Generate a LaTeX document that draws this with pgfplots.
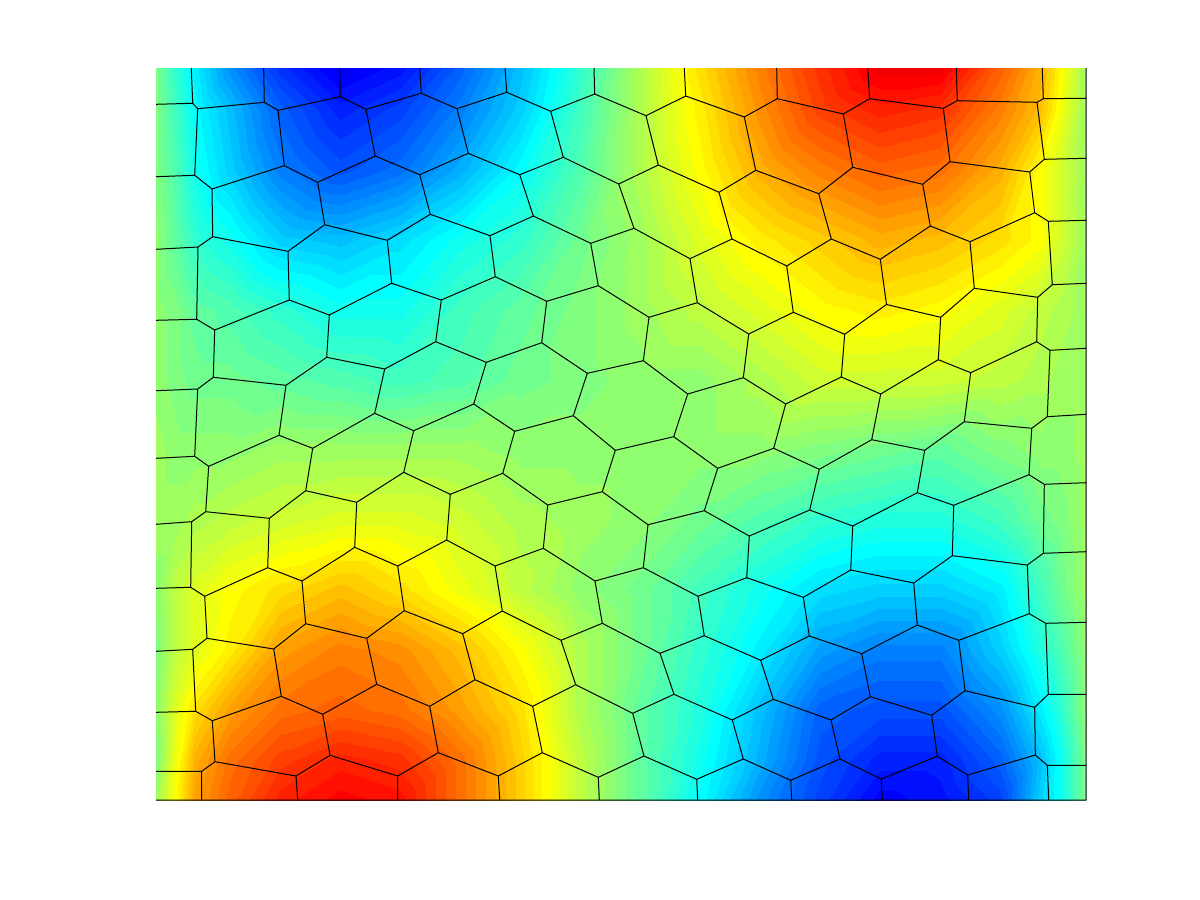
\documentclass[border=0pt]{standalone}
\usepackage{pgfplots}
\pgfplotsset{compat=1.18}
\pgfplotsset{
 colormap={mljetbase}{rgb(0)=(0,0,0.5625) rgb(7)=(0,0,1) rgb(23)=(0,1,1) rgb(39)=(1,1,0) rgb(55)=(1,0,0) rgb(63)=(0.5,0,0)},
 colormap={mljet}{samples of colormap=(64 of mljetbase)},
}
\begin{document}
\begin{tikzpicture}
\path[use as bounding box,fill=white] (-78pt,-50pt) rectangle (522pt,400pt);
\begin{axis}[at={(0,0)},anchor=south west,scale only axis,width=465pt,height=366pt,
 xmin=156,xmax=1086,ymin=68,ymax=800,y dir=reverse,hide axis,clip=false,
 colormap name=mljet,colormap access=piecewise constant,point meta min=0.5,point meta max=64.5]
\addplot[surf,shader=interp,mesh/cols=20,point meta=explicit] coordinates {
(156,68)[32](175,68)[27](195,68)[23](230,68)[17](280,68)[11](340,68)[7](400,68)[9](460,68)[14](520,68)[20](580,68)[27](640,68)[35](700,68)[42](760,68)[48](820,68)[53](880,68)[57](940,68)[57](1000,68)[50](1040,68)[45](1062,68)[40](1086,68)[34]
(156,110)[32](175,110)[28](195,110)[24](230,110)[20](280,110)[14](340,110)[10](400,110)[12](460,110)[16](520,110)[21](580,110)[28](640,110)[35](700,110)[41](760,110)[47](820,110)[52](880,110)[54](940,110)[53](1000,110)[48](1040,110)[44](1062,110)[39](1086,110)[34]
(156,170)[32](175,170)[29](195,170)[25](230,170)[21](280,170)[16](340,170)[13](400,170)[15](460,170)[19](520,170)[24](580,170)[29](640,170)[35](700,170)[40](760,170)[45](820,170)[48](880,170)[50](940,170)[49](1000,170)[45](1040,170)[40](1062,170)[37](1086,170)[34]
(156,240)[33](175,240)[30](195,240)[27](230,240)[25](280,240)[21](340,240)[20](400,240)[22](460,240)[25](520,240)[27](580,240)[31](640,240)[34](700,240)[38](760,240)[41](820,240)[43](880,240)[45](940,240)[44](1000,240)[42](1040,240)[40](1062,240)[37](1086,240)[34]
(156,310)[33](175,310)[32](195,310)[30](230,310)[29](280,310)[27](340,310)[25](400,310)[25](460,310)[28](520,310)[30](580,310)[32](640,310)[34](700,310)[36](760,310)[38](820,310)[40](880,310)[41](940,310)[40](1000,310)[38](1040,310)[36](1062,310)[35](1086,310)[34]
(156,380)[33](175,380)[32](195,380)[31](230,380)[31](280,380)[30](340,380)[29](400,380)[28](460,380)[29](520,380)[31](580,380)[32](640,380)[33](700,380)[33](760,380)[35](820,380)[37](880,380)[37](940,380)[37](1000,380)[36](1040,380)[35](1062,380)[34](1086,380)[34]
(156,450)[34](175,450)[33](195,450)[33](230,450)[33](280,450)[34](340,450)[34](400,450)[34](460,450)[34](520,450)[33](580,450)[33](640,450)[33](700,450)[33](760,450)[33](820,450)[32](880,450)[31](940,450)[30](1000,450)[32](1040,450)[33](1062,450)[33](1086,450)[34]
(156,520)[34](175,520)[34](195,520)[35](230,520)[36](280,520)[37](340,520)[38](400,520)[38](460,520)[37](520,520)[35](580,520)[34](640,520)[33](700,520)[31](760,520)[29](820,520)[27](880,520)[26](940,520)[26](1000,520)[28](1040,520)[31](1062,520)[32](1086,520)[34]
(156,590)[33](175,590)[36](195,590)[38](230,590)[40](280,590)[42](340,590)[44](400,590)[42](460,590)[39](520,590)[36](580,590)[33](640,590)[31](700,590)[28](760,590)[25](820,590)[22](880,590)[21](940,590)[21](1000,590)[23](1040,590)[28](1062,590)[31](1086,590)[34]
(156,650)[32](175,650)[36](195,650)[38](230,650)[41](280,650)[46](340,650)[48](400,650)[47](460,650)[44](520,650)[40](580,650)[35](640,650)[31](700,650)[27](760,650)[23](820,650)[18](880,650)[16](940,650)[16](1000,650)[21](1040,650)[26](1062,650)[29](1086,650)[33]
(156,710)[33](175,710)[38](195,710)[42](230,710)[46](280,710)[49](340,710)[50](400,710)[49](460,710)[46](520,710)[42](580,710)[35](640,710)[30](700,710)[26](760,710)[20](820,710)[14](880,710)[13](940,710)[13](1000,710)[17](1040,710)[23](1062,710)[27](1086,710)[33]
(156,760)[32](175,760)[39](195,760)[45](230,760)[49](280,760)[52](340,760)[54](400,760)[53](460,760)[49](520,760)[43](580,760)[36](640,760)[30](700,760)[25](760,760)[19](820,760)[13](880,760)[10](940,760)[10](1000,760)[14](1040,760)[20](1062,760)[25](1086,760)[32]
(156,800)[34](175,800)[40](195,800)[46](230,800)[50](280,800)[54](340,800)[56](400,800)[55](460,800)[49](520,800)[43](580,800)[36](640,800)[30](700,800)[24](760,800)[17](820,800)[12](880,800)[8](940,800)[9](1000,800)[12](1040,800)[21](1062,800)[25](1086,800)[32]
};
\addplot[black,line width=0.5pt,unbounded coords=jump,mark=none,forget plot] coordinates {
(191.3,68)(192.7,103.3)(nan,nan)(156,104.3)(192.7,103.3)(197.7,108.7)(264.3,102.3)(278,110.3)(340.3,96.7)(366,109.3)(421.3,93.3)(457,108.7)(506.7,92.3)(550.7,111.3)(594.7,94)(646,115.7)(685.7,96)(744.3,117)(777.3,98.7)(843.3,114)(869.7,98.7)(943.3,108.3)(957.3,100.7)(1037,102.3)(1043.3,98.7)(1086,98.3)(nan,nan)
(263.7,68)(264.3,102.3)(nan,nan)(339.7,68)(340.3,96.7)(nan,nan)(419.7,68)(421.3,93.3)(nan,nan)(505,68)(506.7,92.3)(nan,nan)(594,68)(594.7,94)(nan,nan)(684.3,68)(685.7,96)(nan,nan)(776.7,68)(777.3,98.7)(nan,nan)(867.7,68)(869.7,98.7)(nan,nan)(956.3,68)(957.3,100.7)(nan,nan)(1042.3,68)(1043.3,98.7)(nan,nan)
(197.7,108.7)(194.7,175.3)(212,189)(212.7,236.7)(198,247)(196.7,319.3)(214.7,330)(213.3,377.3)(197.7,389)(194.7,456.3)(208.7,466.3)(205.7,511.7)(191.7,521.7)(190.7,587.3)(204.7,596.3)(207,638.3)(192.7,649.3)(195.7,711.3)(212.3,720.7)(215,761.7)(201.7,771.3)(201.7,800)(nan,nan)
(156,176.7)(194.7,175.3)(nan,nan)(156,249.3)(198,247)(nan,nan)(156,320.3)(196.7,319.3)(nan,nan)(156,390.7)(197.7,389)(nan,nan)(156,458.3)(194.7,456.3)(nan,nan)(156,524.3)(191.7,521.7)(nan,nan)(156,588.3)(190.7,587.3)(nan,nan)(156,651.3)(192.7,649.3)(nan,nan)(156,712.3)(195.7,711.3)(nan,nan)(156,771.3)(201.7,771.3)(nan,nan)
(278,110.3)(284.3,165.7)(317.7,182.3)(324.7,224.7)(288,251.3)(289.3,300)(329.3,315)(326.7,357.3)(286,385.3)(279,435.3)(312.7,448.3)(305.7,490.7)(269.3,518.3)(267.7,567.7)(302,581)(305.7,623.7)(273.7,649)(281.3,696.3)(322.7,714.3)(330,755.3)(296,776)(297.7,800)(nan,nan)
(212,189)(284.3,165.7)(nan,nan)(212.7,236.7)(288,251.3)(nan,nan)(214.7,330)(289.3,300)(nan,nan)(213.3,377.3)(286,385.3)(nan,nan)(208.7,466.3)(279,435.3)(nan,nan)(205.7,511.7)(269.3,518.3)(nan,nan)(204.7,596.3)(267.7,567.7)(nan,nan)(207,638.3)(273.7,649)(nan,nan)(212.3,720.7)(281.3,696.3)(nan,nan)(215,761.7)(296,776)(nan,nan)
(366,109.3)(375.3,156)(419.7,174.7)(430.3,214.3)(387.3,240.3)(391.7,283.3)(441.3,300)(435.7,341.7)(486.3,362.3)(473.7,404)(413.7,430.7)(403.7,472.3)(356.7,502.3)(354.7,547.3)(397.7,566)(404.3,610.7)(366.7,638.3)(376.7,684.3)(429.7,706.3)(438.3,752.7)(397.7,776)(397.7,800)(nan,nan)
(317.7,182.3)(375.3,156)(nan,nan)(324.7,224.7)(387.3,240.3)(nan,nan)(329.3,315)(391.7,283.3)(nan,nan)(326.7,357.3)(384.7,369)(435.7,341.7)(nan,nan)(384.7,369)(374.7,413.3)(413.7,430.7)(nan,nan)(312.7,448.3)(374.7,413.3)(nan,nan)(305.7,490.7)(356.7,502.3)(nan,nan)(343.3,555)(354.7,547.3)(nan,nan)(302,581)(343.3,555)(nan,nan)(305.7,623.7)(366.7,638.3)(nan,nan)(322.7,714.3)(376.7,684.3)(nan,nan)(330,755.3)(397.7,776)(nan,nan)
(457,108.7)(468.3,153.3)(519.7,174.7)(533.3,216)(490,235.7)(495.3,276.7)(546.7,301.3)(541.7,342.7)(587.3,373.3)(573.3,415.7)(514.7,431.3)(502.7,473.3)(547.7,505)(543.3,548.3)(595,581)(602.3,623.3)(561,640.3)(575.7,684.7)(532.7,706.3)(542.3,752.7)(498.3,776)(499.7,800)(nan,nan)
(419.7,174.7)(468.3,153.3)(nan,nan)(430.3,214.3)(490,235.7)(nan,nan)(441.3,300)(495.3,276.7)(nan,nan)(486.3,362.3)(541.7,342.7)(nan,nan)(473.7,404)(514.7,431.3)(nan,nan)(403.7,472.3)(450.3,494.3)(502.7,473.3)(nan,nan)(450.3,494.3)(446.7,540)(397.7,566)(nan,nan)(446.7,540)(495,566)(543.3,548.3)(nan,nan)(495,566)(502.3,611)(561,640.3)(nan,nan)(404.3,610.7)(462.7,633.7)(502.3,611)(nan,nan)(462.7,633.7)(475,679.7)(429.7,706.3)(nan,nan)(475,679.7)(532.7,706.3)(nan,nan)(438.3,752.7)(498.3,776)(nan,nan)
(550.7,111.3)(563.3,157.3)(618.7,184)(634,228.3)(590.7,243.3)(598.3,285.7)(649,317.3)(643.3,360.7)(687.7,394)(673.7,436.7)(717.7,468.3)(704.3,510.7)(648,524.7)(643.3,567.7)(698,596.3)(704.3,635.7)(660,653.3)(674,694.3)(632.7,713.3)(644,756)(598.3,777.3)(599.3,800)(nan,nan)
(519.7,174.7)(563.3,157.3)(nan,nan)(533.3,216)(590.7,243.3)(nan,nan)(546.7,301.3)(598.3,285.7)(nan,nan)(587.3,373.3)(643.3,360.7)(nan,nan)(573.3,415.7)(615.3,450.3)(673.7,436.7)(nan,nan)(615.3,450.3)(602.3,491.7)(547.7,505)(nan,nan)(602.3,491.7)(648,524.7)(nan,nan)(595,581)(643.3,567.7)(nan,nan)(602.3,623.3)(660,653.3)(nan,nan)(575.7,684.7)(632.7,713.3)(nan,nan)(542.3,752.7)(598.3,777.3)(nan,nan)
(646,115.7)(658.3,165)(719,192.3)(732,239)(690,258.7)(697.3,302.7)(748.7,334)(743.3,377.7)(785.7,404)(773.7,448.3)(819.3,469.3)(809.7,510)(749.3,536)(746.7,577.7)(803.3,597.3)(809.3,636)(760.7,660.3)(773.3,699.3)(732.3,720)(743.3,759)(696.7,779.3)(697.7,800)(nan,nan)
(618.7,184)(658.3,165)(nan,nan)(634,228.3)(690,258.7)(nan,nan)(649,317.3)(697.3,302.7)(nan,nan)(687.7,394)(743.3,377.7)(nan,nan)(717.7,468.3)(773.7,448.3)(nan,nan)(704.3,510.7)(749.3,536)(nan,nan)(698,596.3)(746.7,577.7)(nan,nan)(704.3,635.7)(760.7,660.3)(nan,nan)(674,694.3)(732.3,720)(nan,nan)(644,756)(696.7,779.3)(nan,nan)
(744.3,117)(755.7,170.3)(818.7,193.7)(831.3,239)(786.7,266)(793.3,312.3)(844.7,334.3)(841.3,377)(880.7,394)(871.7,439.7)(924.7,450.3)(917.3,492.7)(852.7,526)(850.7,570)(913.7,583)(917.3,625)(861.7,653.7)(870.3,696.7)(831,720)(840,759)(790.7,780.3)(791.7,800)(nan,nan)
(719,192.3)(755.7,170.3)(nan,nan)(732,239)(786.7,266)(nan,nan)(748.7,334)(793.3,312.3)(nan,nan)(785.7,404)(841.3,377)(nan,nan)(819.3,469.3)(871.7,439.7)(nan,nan)(809.7,510)(852.7,526)(nan,nan)(803.3,597.3)(850.7,570)(nan,nan)(809.3,636)(861.7,653.7)(nan,nan)(773.3,699.3)(831,720)(nan,nan)(743.3,759)(790.7,780.3)(nan,nan)
(843.3,114)(852.7,167.3)(922.7,184.3)(930.3,226)(880.3,259.3)(886.5,304.5)(940.7,317.3)(938.3,359.7)(970.7,372.7)(964.3,421.7)(924.7,450.3)(nan,nan)
(818.7,193.7)(852.7,167.3)(nan,nan)(831.3,239)(880.3,259.3)(nan,nan)(844.7,334.3)(886.5,304.5)(nan,nan)(880.7,394)(938.3,359.7)(nan,nan)
(917.3,492.7)(953.7,505.3)(952.3,555.7)(913.7,583)(nan,nan)(953.7,505.3)(1029,474.7)(nan,nan)(952.3,555.7)(1027.3,565)(1029.3,613.7)(958.7,640.3)(965,690.7)(931.7,715.3)(937.3,756.3)(881.3,779)(882.3,800)(nan,nan)
(917.3,625)(958.7,640.3)(nan,nan)(870.3,696.7)(931.7,715.3)(nan,nan)(840,759)(881.3,779)(nan,nan)(937.3,756.3)(967.7,775)(968.7,800)(nan,nan)(967.7,775)(1035.3,755)(1034.7,707.3)(965,690.7)(nan,nan)
(943.3,108.3)(950,161.7)(922.7,184.3)(nan,nan)(950,161.7)(1029.7,172)(1034.7,212.7)(970,241.7)(930.3,226)(nan,nan)(970,241.7)(974.3,288.3)(940.7,317.3)(nan,nan)(974.3,288.3)(1037.7,297.3)(1036.7,341.7)(970.7,372.7)(nan,nan)
(1037,102.3)(1044.3,159.3)(1029.7,172)(nan,nan)(1044.3,159.3)(1086,158.3)(nan,nan)(1034.7,212.7)(1048.3,221.3)(1086,220.3)(nan,nan)(1048.3,221.3)(1052.3,284.7)(1086,283.3)(nan,nan)(1052.3,284.7)(1037.7,297.3)(nan,nan)
(1036.7,341.7)(1050,350.3)(1086,348.3)(nan,nan)(1050,350.3)(1047.3,416.7)(1086,414.3)(nan,nan)(1047.3,416.7)(1031.7,428.3)(964.3,421.7)(nan,nan)(1031.7,428.3)(1029,474.7)(1044.3,484.3)(1086,482.7)(nan,nan)(1044.3,484.3)(1043.3,553.3)(1086,551.7)(nan,nan)(1043.3,553.3)(1027.3,565)(nan,nan)
(1029.3,613.7)(1045.7,623.3)(1086,622.3)(nan,nan)(1045.7,623.3)(1048.3,694.3)(1086,694.3)(nan,nan)(1048.3,694.3)(1034.7,707.3)(nan,nan)(1035.3,755)(1047.3,765.3)(1086,765.3)(nan,nan)(1047.3,765.3)(1048.7,800)(nan,nan)
(156,800)(1086,800)(1086,68)
};
\end{axis}
\end{tikzpicture}
\end{document}
